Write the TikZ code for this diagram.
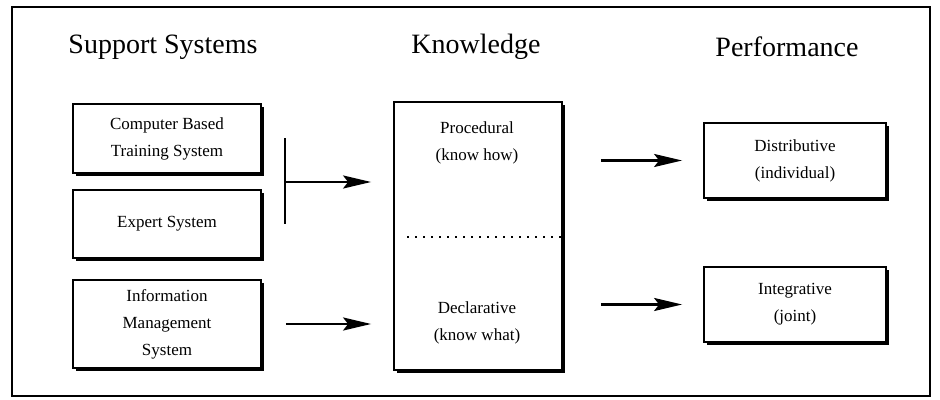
\documentclass[tikz,border=0pt]{standalone}
\usepackage{fontspec}
\setmainfont{Liberation Serif}
\usetikzlibrary{arrows.meta,positioning,shadows,calc}
\tikzset{
  >=Stealth,
  box/.style={draw,line width=0.9pt,fill=white,inner sep=2pt,align=center,
              font=\fontsize{8.5}{13.5}\selectfont,
              drop shadow={shadow xshift=1.5pt,shadow yshift=-1.5pt,fill=black,opacity=1}},
  heading/.style={font=\fontsize{14}{16}\selectfont},
  lbl/.style={align=center,font=\fontsize{8.5}{13.5}\selectfont},
  flow/.style={->,line width=1.2pt,>={Stealth[length=14pt,width=6.5pt,inset=2.5pt]}},
}
\begin{document}
\begin{tikzpicture}[x=0.5pt,y=-0.5pt]
  \useasboundingbox (0,0) rectangle (940,400);
  % outer frame
  \draw[line width=1pt] (12,7) rectangle (930,396);

  % ===== column headings =====
  \node[heading] (hsupport) at (163,47) {Support Systems};
  \node[heading] (hknow) at (476,47) {Knowledge};
  \node[heading] (hperf) at (787,47) {Performance};

  % ===== support systems =====
  \node[box,minimum width=94pt,minimum height=34.5pt] (cbt) at (167,138.5)
    {Computer Based\\Training System};
  \node[box,minimum width=94pt,minimum height=34pt] (expert) at (167,224)
    {Expert System};
  \node[box,minimum width=94pt,minimum height=44pt] (info) at (167,324)
    {Information\\Management\\System};

  % ===== knowledge =====
  \node[box,minimum width=84pt,minimum height=134pt] (know) at (478,236) {};
  \node[lbl] (proc) at (477,143) {Procedural\\(know how)};
  \node[lbl] (decl) at (477,323) {Declarative\\(know what)};
  \draw[line width=1pt,dash pattern=on 1pt off 3pt]
    ($(know.west)+(14,1)$) -- ($(know.east)+(-2,1)$);

  % ===== performance =====
  \node[box,minimum width=91pt,minimum height=37.5pt] (dist) at (795,160.5)
    {Distributive\\(individual)};
  \node[box,minimum width=91pt,minimum height=37.5pt] (integ) at (795,304.5)
    {Integrative\\(joint)};

  % ===== connectors =====
  \coordinate (join) at (285,182);
  \draw[line width=1pt] (cbt.east -| join) -- (expert.east -| join);
  \draw[flow,shorten >=11pt] (join) -- (join -| know.west);
  \draw[flow,shorten <=12pt,shorten >=11pt] (info.east) -- (info.east -| know.west);
  \draw[flow,shorten <=19pt,shorten >=10.5pt] (dist.west -| know.east) -- (dist.west);
  \draw[flow,shorten <=19pt,shorten >=10.5pt] (integ.west -| know.east) -- (integ.west);
\end{tikzpicture}
\end{document}
